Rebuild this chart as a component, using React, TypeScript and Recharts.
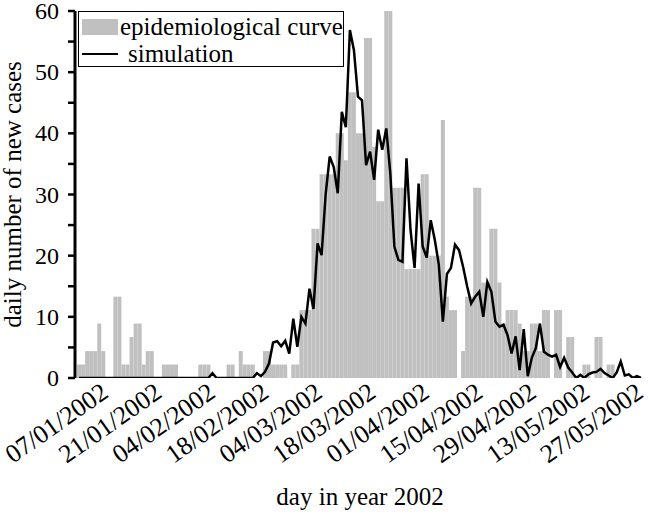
import React from 'react';
import { ComposedChart, Bar, Line, XAxis, YAxis, Legend, Label } from 'recharts';

// daily new cases (epidemiological curve), day 0 = 01/01/2002
const cases = [
  2.2, 2.2, 4.4, 4.4, 4.4, 8.9, 4.4, 0, 0, 13.3,
  13.3, 2.2, 2.2, 6.7, 8.9, 8.9, 2.2, 4.4, 4.4, 0,
  0, 2.2, 2.2, 2.2, 2.2, 0, 0, 0, 0, 0,
  2.2, 2.2, 2.2, 0, 0, 0, 0, 2.2, 2.2, 0,
  4.4, 2.2, 2.2, 2.2, 0, 0, 4.4, 4.4, 2.2, 2.2,
  2.2, 2.2, 0, 2.2, 2.2, 11.1, 11.1, 11.1, 24.4, 24.4,
  33.3, 33.3, 33.3, 33.3, 40.0, 40.0, 35.6, 46.7, 46.7, 40.0,
  40.0, 55.6, 55.6, 37.8, 28.9, 28.9, 60.0, 60.0, 31.1, 31.1,
  31.1, 17.8, 17.8, 17.8, 17.8, 33.3, 33.3, 20.0, 20.0, 20.0,
  42.2, 13.3, 11.1, 11.1, 0, 4.4, 13.3, 13.3, 31.1, 31.1,
  15.6, 15.6, 24.4, 24.4, 15.6, 8.9, 11.1, 11.1, 11.1, 8.9,
  4.4, 4.4, 8.9, 8.9, 4.4, 11.1, 11.1, 0, 11.1, 11.1,
  0, 6.7, 6.7, 0, 0, 2.2, 2.2, 0, 6.7, 6.7,
  0, 2.2, 2.2, 0, 0, 0, 0, 0, 0, 0,
];

// simulated daily new cases
const simulation = [
  0, 0, 0, 0, 0, 0, 0, 0, 0, 0,
  0, 0, 0, 0, 0, 0, 0, 0, 0, 0,
  0, 0, 0, 0, 0, 0, 0, 0, 0, 0,
  0, 0, 0, 0.8, 0, 0, 0, 0, 0, 0,
  0, 0, 0, 0, 0.8, 0.3, 1.0, 2.4, 5.8, 6.0,
  5.2, 6.1, 4.0, 9.7, 5.1, 10.0, 8.9, 14.6, 11.3, 22.0,
  20.1, 30.0, 36.2, 34.5, 30.2, 43.5, 41.0, 56.9, 53.6, 46.0,
  45.4, 34.8, 37.0, 32.4, 40.6, 37.3, 40.8, 33.4, 21.5, 19.3,
  19.0, 35.9, 24.2, 18.0, 31.8, 21.5, 19.7, 25.8, 22.6, 18.5,
  9.2, 17.0, 18.0, 21.8, 20.9, 18.2, 15.0, 12.2, 13.3, 14.1,
  10.0, 15.7, 14.1, 9.2, 8.4, 8.7, 7.0, 4.0, 6.8, 1.3,
  8.0, 0.3, 3.3, 4.9, 8.9, 4.3, 3.8, 3.5, 3.8, 1.8,
  3.3, 1.7, 0.9, 0, 0.5, 0, 0.6, 0.9, 1.0, 1.5,
  0.8, 0.4, 0, 0.9, 2.7, 0.4, 0.6, 0, 0.3, 0,
];

// tick marks every two weeks (07/01 ... 13/05)
const tickDays = [6, 20, 34, 48, 62, 76, 90, 104, 118, 132];
const dateLabels = [
  '07/01/2002', '21/01/2002', '04/02/2002', '18/02/2002', '04/03/2002', '18/03/2002',
  '01/04/2002', '15/04/2002', '29/04/2002', '13/05/2002', '27/05/2002',
];
const yTicks = [0, 5, 10, 15, 20, 25, 30, 35, 40, 45, 50, 55, 60];

const data = cases.map((c, i) => ({ day: i, cases: c, simulation: simulation[i] }));
const labelSlots = dateLabels.map((_, i) => i);

const FONT = '"Liberation Serif", "Times New Roman", serif';

const CountTick = ({ x, y, payload }: any) => {
  if (payload.value % 10 !== 0) return <g />;
  return (
    <text x={x} y={y} dy={8} textAnchor="end" fontFamily={FONT} fontSize={24} fill="#000">
      {payload.value}
    </text>
  );
};

const DateTick = ({ x, y, payload }: any) => {
  const ay = y + 18;
  return (
    <text x={x} y={ay} transform={`rotate(-35, ${x}, ${ay})`} textAnchor="end" fontFamily={FONT} fontSize={26} fill="#000">
      {dateLabels[payload.value]}
    </text>
  );
};

const renderLegend = () => (
  <div
    style={{
      border: '1.5px solid #000',
      width: 266,
      height: 56,
      fontFamily: FONT,
      fontSize: 25,
      lineHeight: '27px',
      background: '#fff',
      boxSizing: 'border-box',
      paddingTop: 1,
    }}
  >
    <div style={{ display: 'flex', alignItems: 'center' }}>
      <span style={{ display: 'inline-block', width: 36, height: 16, background: '#c0c0c0', marginLeft: 3, marginRight: 2 }} />
      <span>epidemiological curve</span>
    </div>
    <div style={{ display: 'flex', alignItems: 'center' }}>
      <span style={{ display: 'inline-block', width: 36, height: 0, borderTop: '2px solid #000', marginLeft: 3, marginRight: 10 }} />
      <span>simulation</span>
    </div>
  </div>
);

export default function App() {
  return (
    <div style={{ position: 'absolute', left: 0, top: 0, background: '#fff' }}>
      <ComposedChart
        width={649}
        height={517}
        data={data}
        margin={{ top: 11, right: 4, bottom: 0, left: 0 }}
        barCategoryGap={0}
        barGap={0}
      >
        <XAxis
          xAxisId="day"
          dataKey="day"
          type="number"
          domain={[-1, 140]}
          ticks={tickDays}
          tick={false}
          height={0}
          tickSize={6}
          axisLine={{ stroke: '#000', strokeWidth: 3 }}
          tickLine={{ stroke: '#000', strokeWidth: 2.5 }}
          allowDataOverflow
        />
        <XAxis
          xAxisId="lab"
          dataKey="day"
          type="number"
          domain={[-0.654, 10]}
          ticks={labelSlots}
          interval={0}
          tick={<DateTick />}
          axisLine={false}
          tickLine={false}
          tickSize={0}
          tickMargin={0}
          height={139}
          allowDataOverflow
        >
          <Label
            content={({ viewBox }: any) => (
              <text
                x={viewBox.x + viewBox.width / 2}
                y={viewBox.y + viewBox.height - 12}
                textAnchor="middle"
                fontFamily={FONT}
                fontSize={25}
                fill="#000"
              >
                day in year 2002
              </text>
            )}
          />
        </XAxis>
        <YAxis
          type="number"
          domain={[0, 60]}
          ticks={yTicks}
          interval={0}
          width={75}
          tick={<CountTick />}
          tickSize={7}
          tickMargin={9}
          axisLine={{ stroke: '#000', strokeWidth: 3 }}
          tickLine={{ stroke: '#000', strokeWidth: 2.5 }}
          allowDataOverflow
        >
          <Label
            content={({ viewBox }: any) => {
              const cx = 21;
              const cy = viewBox.y + viewBox.height / 2;
              return (
                <text x={cx} y={cy} transform={`rotate(-90, ${cx}, ${cy})`} textAnchor="middle" fontFamily={FONT} fontSize={25} fill="#000">
                  daily number of new cases
                </text>
              );
            }}
          />
        </YAxis>
        <Bar xAxisId="day" dataKey="cases" fill="#c0c0c0" isAnimationActive={false} />
        <Line
          xAxisId="day"
          dataKey="simulation"
          type="linear"
          stroke="#000"
          strokeWidth={2.5}
          dot={false}
          activeDot={false}
          isAnimationActive={false}
        />
        <Legend
          layout="vertical"
          align="center"
          verticalAlign="middle"
          content={renderLegend}
          wrapperStyle={{ left: 78, top: 11, width: 266 }}
        />
      </ComposedChart>
    </div>
  );
}
